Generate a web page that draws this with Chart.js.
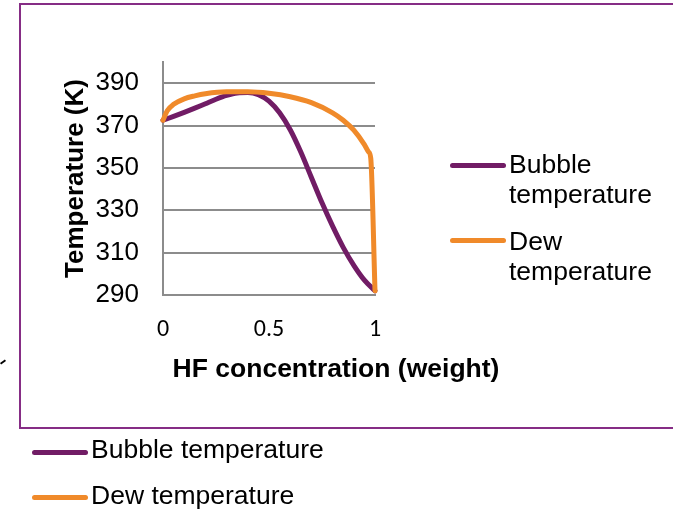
<!DOCTYPE html>
<html>
<head>
    <title>HF - Bubble and Dew Temperature</title>
    <script src="https://cdn.jsdelivr.net/npm/chart.js"></script>
    <style>
        body {
            margin: 0;
            width: 673px;
            height: 513px;
            overflow: hidden;
            position: relative;
            background: #fff;
            font-family: "Liberation Sans", Arial, sans-serif;
        }
        #frame {
            position: absolute;
            left: 19px;
            top: 3px;
            width: 700px;
            height: 422px;
            border: 2px solid #862D85;
        }
        #tempChart { position: absolute; left: 0; top: 0; }
        .key { position: absolute; font-size: 26.5px; line-height: 30px; color: #000; }
        .swatch { position: absolute; width: 56px; height: 5px; border-radius: 3px; }
        #stray { position: absolute; left: 0; top: 361px; width: 6px; height: 2px; background: #000; transform: rotate(-35deg); }
    </style>
</head>
<body>
    <div id="frame"></div>
    <div id="stray"></div>
    <canvas id="tempChart" width="673" height="513"></canvas>
    <div id="legends"></div>

    <script>
        // values
        const seriesNames = ['Bubble temperature', 'Dew temperature'];
        const seriesColors = ['#711C65', '#F08A2A'];

        const bubbleX = [0, 0.05, 0.1, 0.15, 0.2, 0.25, 0.3, 0.35, 0.4, 0.45, 0.5, 0.55, 0.6, 0.65, 0.7, 0.75, 0.8, 0.85, 0.9, 0.95, 1.0];
        const bubbleT = [372.5, 374.3, 376.2, 378.2, 380.3, 382.4, 384.2, 385.4, 385.6, 384.6, 381.5, 376, 368, 357.5, 345.5, 333.5, 322.5, 312.5, 304, 297, 292];

        const dewX = [0, 0.02, 0.05, 0.1, 0.15, 0.2, 0.3, 0.4, 0.5, 0.6, 0.7, 0.8, 0.85, 0.9, 0.95, 0.97, 0.98, 1.0];
        const dewT = [372.5, 377, 380, 382.6, 384, 385, 385.9, 385.9, 385.2, 383.6, 380.8, 376, 372.5, 367.8, 361, 357.5, 354.5, 292];

        const xTicks = [0, 0.5, 1];
        const yTicks = [290, 310, 330, 350, 370, 390];
        const xTitle = 'HF concentration (weight)';
        const yTitle = 'Temperature (K)';

        const toPoints = (xs, ys) => xs.map((x, i) => ({ x: x, y: ys[i] }));
        const gridGray = '#8C8C8C';

        // x title sits off-centre in the original, so draw it ourselves
        const xTitlePlugin = {
            id: 'xTitle',
            afterDraw(chart) {
                const ctx = chart.ctx;
                ctx.save();
                ctx.font = 'bold 26.5px "Liberation Sans", Arial, sans-serif';
                ctx.fillStyle = '#000';
                ctx.textAlign = 'center';
                ctx.textBaseline = 'middle';
                ctx.fillText(xTitle, 336, 370);
                ctx.restore();
            }
        };

        const ctx = document.getElementById('tempChart').getContext('2d');
        new Chart(ctx, {
            type: 'line',
            data: {
                datasets: [
                    {
                        label: seriesNames[0],
                        data: toPoints(bubbleX, bubbleT),
                        borderColor: seriesColors[0],
                        order: 1
                    },
                    {
                        label: seriesNames[1],
                        data: toPoints(dewX, dewT),
                        borderColor: seriesColors[1],
                        order: 0
                    }
                ]
            },
            options: {
                responsive: false,
                animation: false,
                clip: false,
                datasets: {
                    line: {
                        borderWidth: 5,
                        pointRadius: 0,
                        fill: false,
                        cubicInterpolationMode: 'monotone',
                        borderCapStyle: 'round',
                        borderJoinStyle: 'round'
                    }
                },
                layout: {
                    padding: { left: 0, top: 62, right: 298, bottom: 0 }
                },
                scales: {
                    x: {
                        type: 'linear',
                        min: 0,
                        max: 1,
                        grid: { display: false, drawTicks: false },
                        border: { color: gridGray, width: 2 },
                        ticks: {
                            padding: 21,
                            color: '#000',
                            maxRotation: 0,
                            font: { family: 'Carlito, Lato, sans-serif', size: 24 },
                            callback: v => String(v)
                        },
                        afterBuildTicks: axis => { axis.ticks = xTicks.map(v => ({ value: v })); },
                        afterFit: scale => { scale.height = 218; }
                    },
                    y: {
                        min: 290,
                        max: 400,
                        grid: { color: gridGray, lineWidth: 2, drawTicks: false },
                        border: { color: gridGray, width: 2 },
                        ticks: {
                            padding: 24,
                            color: '#000',
                            font: { family: '"Liberation Sans", Arial, sans-serif', size: 26 }
                        },
                        title: {
                            display: true,
                            text: yTitle,
                            color: '#000',
                            padding: { top: 60, bottom: 0 },
                            font: { family: '"Liberation Sans", Arial, sans-serif', size: 26, weight: 'bold' }
                        },
                        afterBuildTicks: axis => { axis.ticks = yTicks.map(v => ({ value: v })); },
                        afterFit: scale => { scale.width = 163; }
                    }
                },
                plugins: {
                    legend: { display: false },
                    tooltip: { enabled: false }
                }
            },
            plugins: [xTitlePlugin]
        });

        // two legends: one beside the plot (wrapped), one below the frame
        const legendBox = document.getElementById('legends');
        function addKey(i, swatchLeft, swatchTop, textLeft, textTop, textWidth) {
            const sw = document.createElement('div');
            sw.className = 'swatch';
            sw.style.left = swatchLeft + 'px';
            sw.style.top = (swatchTop - 2) + 'px';
            sw.style.background = seriesColors[i];
            legendBox.appendChild(sw);

            const tx = document.createElement('div');
            tx.className = 'key';
            tx.style.left = textLeft + 'px';
            tx.style.top = textTop + 'px';
            if (textWidth) tx.style.width = textWidth + 'px';
            tx.textContent = seriesNames[i];
            legendBox.appendChild(tx);
        }
        addKey(0, 450, 165, 509, 149, 160);
        addKey(1, 450, 240, 509, 226, 160);
        addKey(0, 32, 452, 91, 434);
        addKey(1, 32, 497, 91, 480);
    </script>
</body>
</html>
